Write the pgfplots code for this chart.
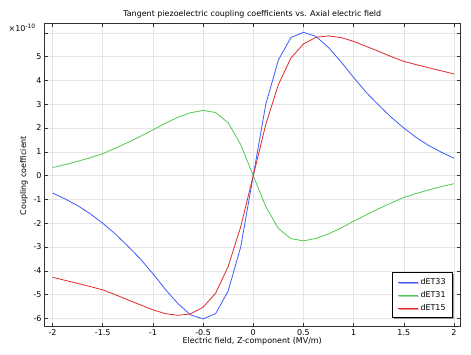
\documentclass[border=0pt]{standalone}
\usepackage{fontspec}
\setmainfont{DejaVu Sans}
\usepackage{pgfplots}
\usepackage{pgfplotstable}
\pgfplotsset{compat=1.18}
\usetikzlibrary{shadows}
\definecolor{cblue}{RGB}{60,90,255}
\definecolor{cgreen}{RGB}{80,200,80}
\definecolor{cred}{RGB}{225,40,40}
\pgfplotstableread{
x b g r
-2.0 -0.73 0.34 -4.27
-1.875 -0.98 0.46 -4.40
-1.75 -1.26 0.60 -4.53
-1.625 -1.60 0.75 -4.66
-1.5 -2.00 0.92 -4.80
-1.375 -2.45 1.15 -5.00
-1.25 -2.96 1.39 -5.22
-1.125 -3.50 1.65 -5.43
-1.0 -4.12 1.92 -5.64
-0.875 -4.78 2.20 -5.80
-0.75 -5.38 2.45 -5.87
-0.625 -5.85 2.64 -5.81
-0.5 -6.02 2.74 -5.53
-0.375 -5.80 2.65 -4.94
-0.25 -4.85 2.22 -3.82
-0.125 -3.00 1.30 -2.15
0.0 0.0 0.0 0.0
0.125 3.00 -1.30 2.15
0.25 4.85 -2.22 3.82
0.375 5.80 -2.65 4.94
0.5 6.02 -2.74 5.53
0.625 5.85 -2.64 5.81
0.75 5.38 -2.45 5.87
0.875 4.78 -2.20 5.80
1.0 4.12 -1.92 5.64
1.125 3.50 -1.65 5.43
1.25 2.96 -1.39 5.22
1.375 2.45 -1.15 5.00
1.5 2.00 -0.92 4.80
1.625 1.60 -0.75 4.66
1.75 1.26 -0.60 4.53
1.875 0.98 -0.46 4.40
2.0 0.73 -0.34 4.27
}\datatable
\begin{document}
\begin{tikzpicture}
\begin{axis}[
  scale only axis, width=415.5bp, height=303bp,
  xmin=-2.08, xmax=2.06, ymin=-6.36, ymax=6.37,
  xtick={-2,-1.5,-1,-0.5,0,0.5,1,1.5,2},
  xticklabels={-2,-1.5,-1,-0.5,0,0.5,1,1.5,2},
  ytick={-6,-5,-4,-3,-2,-1,0,1,2,3,4,5,6},
  yticklabels={-6,-5,-4,-3,-2,-1,0,1,2,3,4,5,{}},
  tick align=inside, major tick length=3.5bp,
  xtick pos=both, ytick pos=both,
  grid=major, grid style={draw=black!10, line width=0.6pt},
  axis line style={draw=black!80, line width=1pt},
  tick style={draw=black!80, line width=0.6pt},
  tick label style={font=\fontsize{8}{9.5}\selectfont},
  xticklabel style={yshift=1bp},
  yticklabel style={xshift=0.5bp},
  /pgf/number format/assume math mode=true,
  title={Tangent piezoelectric coupling coefficients vs. Axial electric field},
  title style={font=\fontsize{8}{9.5}\selectfont, yshift=-3.5bp},
  xlabel={Electric field, Z-component (MV/m)},
  ylabel={Coupling coefficient},
  label style={font=\fontsize{8}{9.5}\selectfont},
  xlabel style={yshift=5bp},
  ylabel style={yshift=-1bp},
  legend cell align=left,
  legend style={at={(1,0)}, anchor=south east, xshift=-7bp, yshift=9bp,
    draw=black, line width=0.8pt, fill=white,
    drop shadow={shadow xshift=1.3bp, shadow yshift=-1.3bp, fill=black!70},
    font=\fontsize{8}{9.5}\selectfont, inner xsep=5bp, inner ysep=3.5bp, row sep=1.6bp},
  legend image code/.code={\draw[#1, line width=0.8pt] (0bp,0bp) -- (20bp,0bp);},
  clip=true,
]
\addplot[cblue, line width=0.8pt] table[x=x, y=b] {\datatable};
\addlegendentry{dET33}
\addplot[cgreen, line width=0.8pt] table[x=x, y=g] {\datatable};
\addlegendentry{dET31}
\addplot[cred, line width=0.8pt] table[x=x, y=r] {\datatable};
\addlegendentry{dET15}
\end{axis}
\node[anchor=east, font=\fontsize{8}{9.5}\selectfont, inner sep=0pt] at ([shift={(-8.5bp,-4bp)}]current axis.north west) {×10\textsuperscript{-10}};
\path ([shift={(-44.5bp,-28bp)}]current axis.south west) rectangle ([shift={(11bp,24bp)}]current axis.north east);
\end{tikzpicture}
\end{document}
